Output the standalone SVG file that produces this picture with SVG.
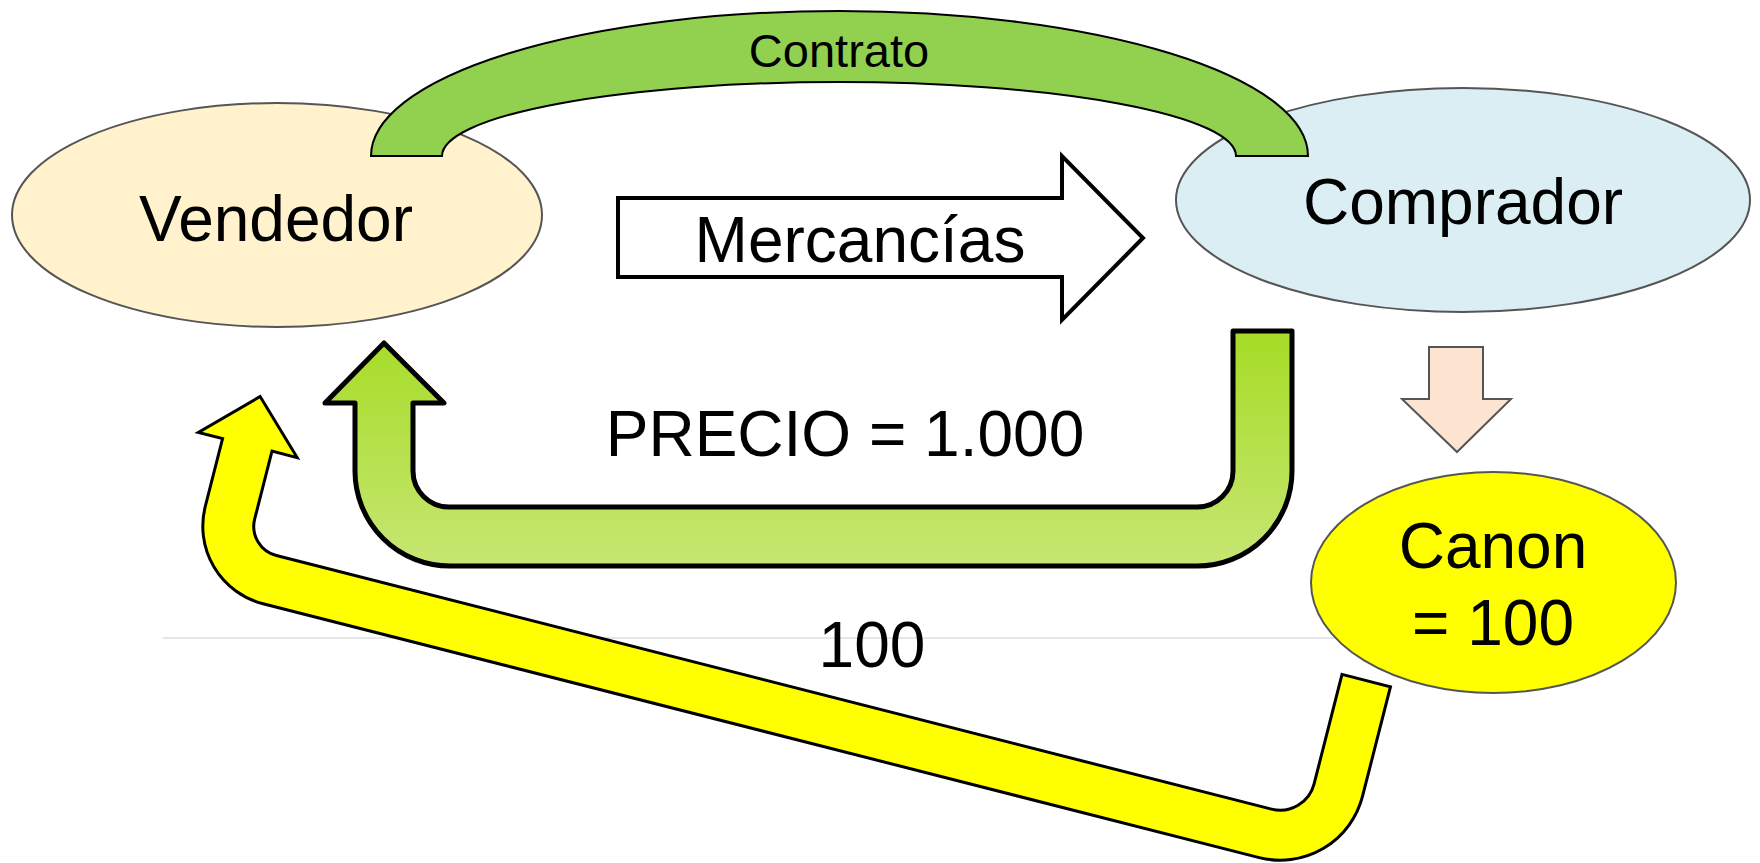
<svg xmlns="http://www.w3.org/2000/svg" width="1760" height="863" viewBox="0 0 1760 863">
<style>
text{font-family:"Liberation Sans",Arial,sans-serif;fill:#000;text-anchor:middle}
.node{stroke:#555;stroke-width:2}
.big{font-size:64px}
</style>
<defs>
<linearGradient id="gg" x1="0" y1="331" x2="0" y2="566" gradientUnits="userSpaceOnUse">
<stop offset="0" stop-color="#A6DC26"/>
<stop offset="1" stop-color="#C6E672"/>
</linearGradient>
</defs>
<rect width="1760" height="863" fill="#fff"/>
<line x1="163" y1="638" x2="1420" y2="638" stroke="#e6e6e6" stroke-width="2"/>
<g id="vendedor">
<ellipse class="node" cx="277" cy="215" rx="265" ry="112" fill="#FFF2CC"/>
<text class="big" x="276" y="241">Vendedor</text>
</g>
<g id="comprador">
<ellipse class="node" cx="1463" cy="200" rx="287" ry="112" fill="#DAEEF3"/>
<text class="big" x="1463" y="224">Comprador</text>
</g>
<g id="canon">
<ellipse class="node" cx="1493.5" cy="582.5" rx="182.5" ry="110.5" fill="#FFFF00"/>
<text class="big" x="1493" y="568">Canon</text>
<text class="big" x="1493" y="645">= 100</text>
</g>
<g id="connectors">
<g id="contrato">
<path d="M 371 156 A 468.5 145 0 0 1 1308 156 L 1236 156 A 397 74 0 0 0 442 156 Z" fill="#92D050" stroke="#000" stroke-width="2"/>
<text x="839" y="67" font-size="47">Contrato</text>
</g>
<g id="mercancias">
<path d="M 618 198 L 1062 198 L 1062 156 L 1143 238 L 1062 320 L 1062 277 L 618 277 Z" fill="#fff" stroke="#000" stroke-width="4"/>
<text class="big" x="860" y="262">Mercancías</text>
</g>
<g id="precio">
<path d="M 1233 331 L 1292 331 L 1292 471 A 95 95 0 0 1 1197 566 L 450 566 A 95 95 0 0 1 355 471 L 355 403 L 325 403 L 384 343 L 444 403 L 413 403 L 413 471 A 36 36 0 0 0 449 507 L 1197 507 A 36 36 0 0 0 1233 471 Z" fill="url(#gg)" stroke="#000" stroke-width="5" stroke-linejoin="round"/>
<text x="845" y="456" font-size="64">PRECIO = 1.000</text>
</g>
<g id="canon-pago">
<path transform="rotate(14.3)" d="M 1467 322 L 1517 322 L 1517 435 A 85 85 0 0 1 1432 520 L 404 520 A 80 80 0 0 1 324 440 L 324 370 L 299 370 L 350 320 L 401 370 L 375 370 L 375 440 A 30 30 0 0 0 405 470 L 1432 470 A 35 35 0 0 0 1467 435 Z" fill="#FFFF00" stroke="#000" stroke-width="3"/>
<text class="big" x="872" y="667">100</text>
</g>
<g id="flecha-canon">
<path d="M 1429 347 L 1483 347 L 1483 399 L 1511 399 L 1457 452 L 1402 399 L 1429 399 Z" fill="#FCE4D0" stroke="#555" stroke-width="2"/>
</g>
</g>
</svg>
